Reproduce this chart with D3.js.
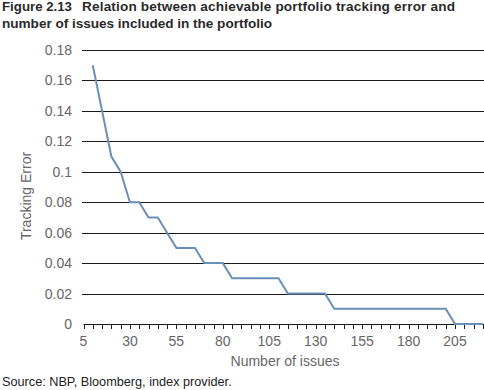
<!DOCTYPE html>
<html><head><meta charset="utf-8">
<script src="https://cdn.jsdelivr.net/npm/d3@7"></script>
<style>
html,body{margin:0;padding:0;background:#fff;}
svg{display:block;font-family:"Liberation Sans",Arial,sans-serif;}
</style></head>
<body>
<svg id="chart" width="484" height="390"></svg>
<script>
const issues = [10,15,20,25,30,35,40,45,50,55,60,65,70,75,80,85,90,95,100,105,110,115,120,125,130,135,140,145,150,155,160,165,170,175,180,185,190,195,200,205,210,215,220];
const trackingError = [0.17,0.14,0.11,0.10,0.08,0.08,0.07,0.07,0.06,0.05,0.05,0.05,0.04,0.04,0.04,0.03,0.03,0.03,0.03,0.03,0.03,0.02,0.02,0.02,0.02,0.02,0.01,0.01,0.01,0.01,0.01,0.01,0.01,0.01,0.01,0.01,0.01,0.01,0.01,0.00,0.00,0.00,0.00];
const yTicks = [0,0.02,0.04,0.06,0.08,0.1,0.12,0.14,0.16,0.18];
const xTickLabels = [5,30,55,80,105,130,155,180,205];
const titleNumber = "Figure 2.13";
const titleLines = ["Relation between achievable portfolio tracking error and","number of issues included in the portfolio"];
const sourceText = "Source: NBP, Bloomberg, index provider.";

const svg = d3.select("#chart");
const x = d3.scaleLinear().domain([5,230]).range([83.5, 83.5+225*1.8575]);
const y = d3.scaleLinear().domain([0,0.18]).range([324,50]);

// title
const tFont = 13.6;
svg.append("text").attr("x",2).attr("y",11).attr("font-size",tFont).attr("font-weight","bold").attr("fill","#2a2a2a")
  .attr("textLength",70).attr("lengthAdjust","spacingAndGlyphs").text(titleNumber);
svg.append("text").attr("x",82).attr("y",11).attr("font-size",tFont).attr("font-weight","bold").attr("fill","#2a2a2a")
  .attr("textLength",373).attr("lengthAdjust","spacing").text(titleLines[0]);
svg.append("text").attr("x",2).attr("y",27.5).attr("font-size",tFont).attr("font-weight","bold").attr("fill","#2a2a2a")
  .attr("textLength",270).attr("lengthAdjust","spacing").text(titleLines[1]);

// gridlines
svg.append("g").selectAll("line").data(yTicks.filter(d=>d>0)).join("line")
  .attr("x1",82).attr("x2",484)
  .attr("y1",d=>Math.round(y(d))+0.5).attr("y2",d=>Math.round(y(d))+0.5)
  .attr("stroke","#1a1a1a").attr("stroke-width",1);

// y labels
svg.append("g").selectAll("text").data(yTicks).join("text")
  .attr("x",72).attr("y",d=>y(d)+5)
  .attr("text-anchor","end").attr("font-size",14).attr("fill","#666")
  .text(d=>d===0?"0":String(d));

// x axis line and ticks
const xTickVals = d3.range(5,231,5);
const gx = svg.append("g");
gx.append("line").attr("x1",x(5)).attr("x2",484).attr("y1",324.5).attr("y2",324.5).attr("stroke","#1a1a1a");
gx.selectAll("line.t").data(xTickVals).join("line").attr("class","t")
  .attr("x1",d=>Math.round(x(d))+0.5).attr("x2",d=>Math.round(x(d))+0.5)
  .attr("y1",324).attr("y2",329).attr("stroke","#1a1a1a");
gx.selectAll("text").data(xTickLabels).join("text")
  .attr("x",d=>x(d)).attr("y",346).attr("text-anchor","middle")
  .attr("font-size",14).attr("fill","#666").text(d=>String(d));

// axis titles
svg.append("text").attr("x",285).attr("y",366).attr("text-anchor","middle")
  .attr("font-size",14).attr("fill","#666").text("Number of issues");
svg.append("text").attr("transform","translate(31,196) rotate(-90)").attr("text-anchor","middle")
  .attr("font-size",14).attr("fill","#666").text("Tracking Error");

// line
const line = d3.line().x((d,i)=>x(issues[i])).y(d=>y(d));
svg.append("path").datum(trackingError).attr("d",line)
  .attr("fill","none").attr("stroke","#6a8fb8").attr("stroke-width",2);

// source
svg.append("text").attr("x",2).attr("y",386).attr("font-size",12.7).attr("fill","#222").text(sourceText);
</script>
</body></html>
